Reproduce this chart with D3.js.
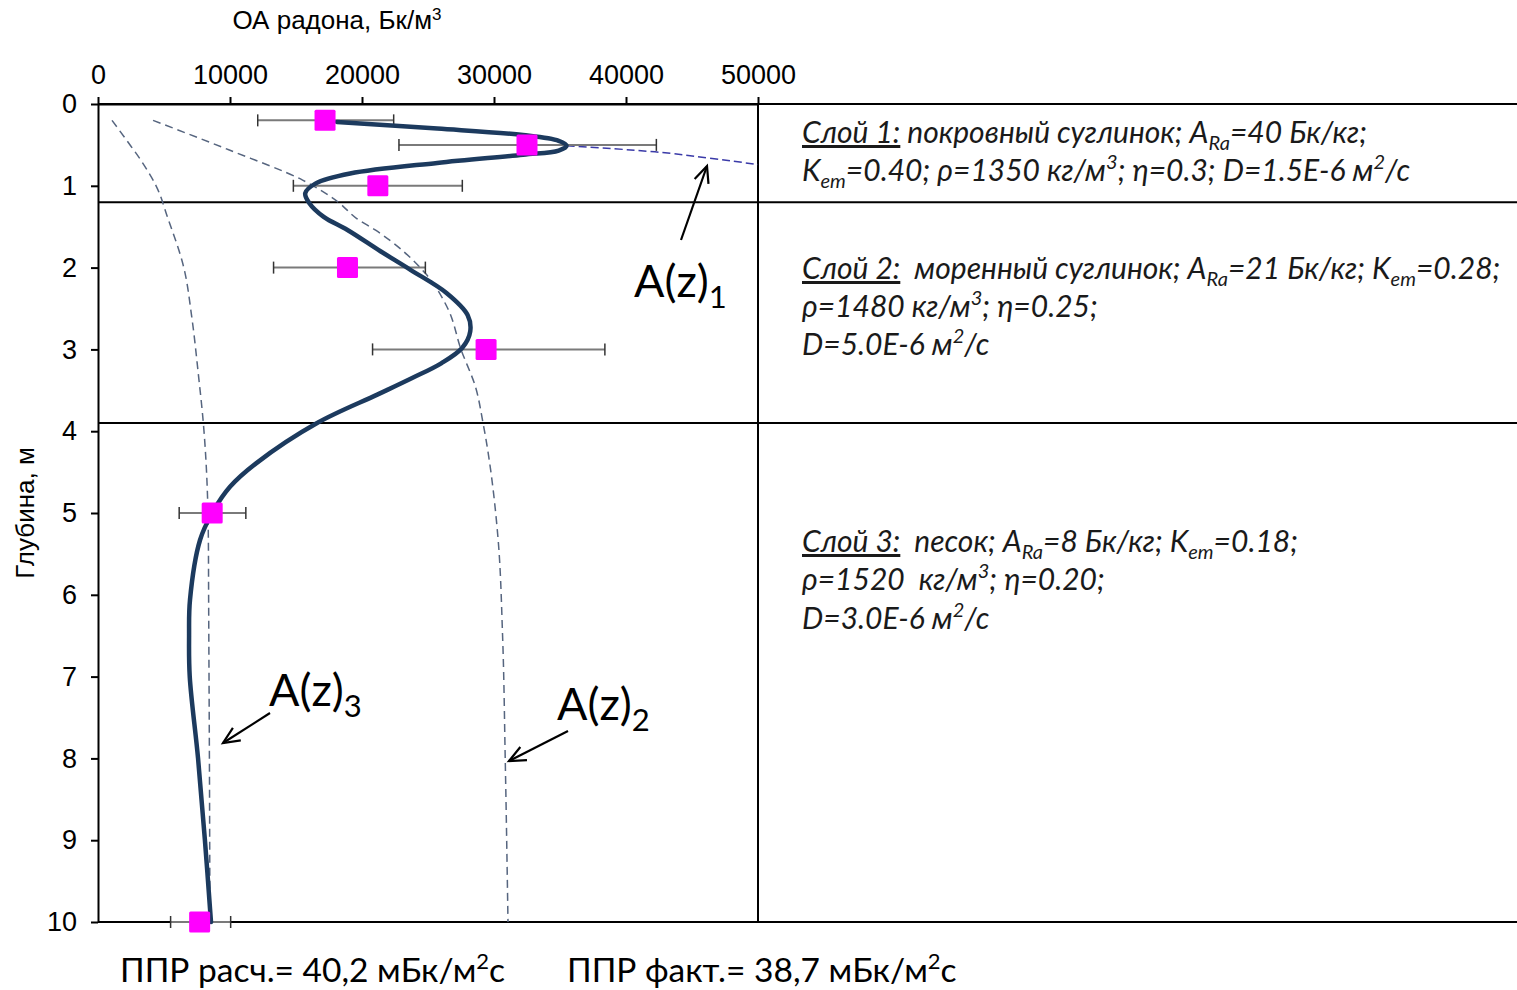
<!DOCTYPE html>
<html>
<head>
<meta charset="utf-8">
<script src="https://cdn.jsdelivr.net/npm/d3@7"></script>
<style>
  html, body { margin: 0; padding: 0; background: #fff; }
  svg { display: block; }
  .axis text { font-family: "Liberation Sans", Arial, sans-serif; font-size: 27px; fill: #000; }
  .axis path, .axis line { stroke: #000; stroke-width: 2; }
  .note { font-family: Lato, "Open Sans", sans-serif; font-style: italic; font-size: 30px; fill: #1a1a1a; white-space: pre; }
  .lbl { font-family: Lato, "Open Sans", sans-serif; font-size: 45px; fill: #000; }
  .foot { font-family: Lato, "Open Sans", sans-serif; font-size: 33.5px; fill: #000; }
</style>
</head>
<body>
<svg id="chart" width="1517" height="990"></svg>
<script>
// Axis ticks
const xTicks = [0, 10000, 20000, 30000, 40000, 50000];
const yTicks = [0, 1, 2, 3, 4, 5, 6, 7, 8, 9, 10];

// Layer boundaries, m
const layerBounds = [1.2, 3.9];

// Measured radon activity with error range
const measDepth = [0.2, 0.5, 1.0, 2.0, 3.0, 5.0, 10.0];
const measValue = [17200, 32500, 21200, 18900, 29400, 8650, 7700];
const measLow   = [12100, 22800, 14800, 13300, 20800, 6150, 5500];
const measHigh  = [22400, 42300, 27600, 24800, 38400, 11200, 10050];

// Calculated profile over the three-layer section
const profDepth = [0.22, 0.30, 0.38, 0.45, 0.51, 0.57, 0.62, 0.72, 0.85, 0.97, 1.09, 1.21, 1.38, 1.54, 1.80, 2.03, 2.31, 2.58, 2.78, 2.98, 3.17, 3.35, 3.55, 3.90, 4.39, 4.68, 5.00, 5.33, 6.06, 6.50, 7.00, 8.00, 9.00, 10.0];
const profValue = [18100, 25700, 32200, 34900, 35500, 34900, 32200, 25700, 19100, 16500, 15700, 16000, 17100, 18900, 21400, 23700, 26400, 28000, 28200, 27600, 26000, 23800, 21200, 16600, 12000, 10000, 8650, 7730, 6970, 6900, 6950, 7580, 8100, 8560];

// Single-layer solutions A(z)1, A(z)2, A(z)3
const a1Depth = [0.51, 0.585, 0.66, 0.74];
const a1Value = [35500, 42200, 46200, 50000];
const a2Depth = [0.2, 0.56, 0.93, 1.2, 1.4, 1.54, 2.07, 2.5, 3.0, 3.46, 3.9, 5.3, 6.5, 8.0, 10.0];
const a2Value = [4170, 9900, 15500, 18200, 19600, 21000, 24800, 26500, 27500, 28600, 29170, 30300, 30650, 30850, 31060];
const a3Depth = [0.2, 0.45, 0.7, 1.0, 1.4, 2.0, 2.6, 3.3, 3.9, 5.3, 6.0, 8.0, 10.0];
const a3Value = [1060, 2200, 3300, 4400, 5300, 6500, 7100, 7600, 7980, 8360, 8380, 8440, 8480];

const svg = d3.select("#chart");
const W = 1517;

const x = d3.scaleLinear().domain([0, 50000]).range([98, 758]);
const y = d3.scaleLinear().domain([0, 10]).range([104, 922]);

// Axes
svg.append("g").attr("class", "axis")
  .attr("transform", `translate(0,${y(0)})`)
  .call(d3.axisTop(x).tickValues(xTicks).tickFormat(d3.format("d")).tickSize(7).tickPadding(13).tickSizeOuter(0));
svg.append("g").attr("class", "axis")
  .attr("transform", `translate(${x(0)},0)`)
  .call(d3.axisLeft(y).tickValues(yTicks).tickFormat(d3.format("d")).tickSize(7).tickPadding(14).tickSizeOuter(0));

// Frame: horizontal lines run across the whole width, right edge of the plot
const frame = svg.append("g").attr("stroke", "#000").attr("stroke-width", 2);
[0, 10].concat(layerBounds).forEach(d => {
  frame.append("line").attr("x1", x(0)).attr("x2", W).attr("y1", y(d)).attr("y2", y(d));
});
frame.append("line").attr("x1", x(50000)).attr("x2", x(50000)).attr("y1", y(0)).attr("y2", y(10));

// Axis titles
const title = svg.append("text").attr("x", 337).attr("y", 29)
  .attr("text-anchor", "middle")
  .style("font-family", "'Liberation Sans', Arial, sans-serif").style("font-size", "26px");
title.append("tspan").text("ОА радона, Бк/м");
title.append("tspan").attr("dy", -9).style("font-size", "17px").text("3");

svg.append("text")
  .attr("transform", "translate(34,513) rotate(-90)")
  .attr("text-anchor", "middle")
  .style("font-family", "'Liberation Sans', Arial, sans-serif").style("font-size", "26px")
  .text("Глубина, м");

// Curves
const plot = svg.append("g");
const lineOf = (ds, vs, curve) => d3.line().curve(curve)(ds.map((d, i) => [x(vs[i]), y(d)]));

plot.append("path").attr("d", lineOf(a3Depth, a3Value, d3.curveMonotoneY))
  .attr("fill", "none").attr("stroke", "#56657f").attr("stroke-width", 1.5).attr("stroke-dasharray", "8,5");
plot.append("path").attr("d", lineOf(a2Depth, a2Value, d3.curveMonotoneY))
  .attr("fill", "none").attr("stroke", "#56657f").attr("stroke-width", 1.5).attr("stroke-dasharray", "8,5");
plot.append("path").attr("d", lineOf(a1Depth, a1Value, d3.curveMonotoneY))
  .attr("fill", "none").attr("stroke", "#3a3aa8").attr("stroke-width", 1.5).attr("stroke-dasharray", "8,4");

// Error bars
const eb = plot.append("g");
measDepth.forEach((d, i) => {
  eb.append("line").attr("x1", x(measLow[i])).attr("x2", x(measHigh[i])).attr("y1", y(d)).attr("y2", y(d))
    .attr("stroke", "#7a7a7a").attr("stroke-width", 2);
  [measLow[i], measHigh[i]].forEach(v => {
    eb.append("line").attr("x1", x(v)).attr("x2", x(v)).attr("y1", y(d) - 6).attr("y2", y(d) + 6)
      .attr("stroke", "#333").attr("stroke-width", 1.5);
  });
});

// Main profile
plot.append("path").attr("d", lineOf(profDepth, profValue, d3.curveCatmullRom.alpha(0.5)))
  .attr("fill", "none").attr("stroke", "#1c3a5e").attr("stroke-width", 4.5)
  .attr("stroke-linejoin", "round").attr("stroke-linecap", "round");

// Measured points
plot.selectAll("rect.pt").data(measDepth).join("rect").attr("class", "pt")
  .attr("x", (d, i) => x(measValue[i]) - 10.5).attr("y", d => y(d) - 10.5)
  .attr("width", 21).attr("height", 21).attr("rx", 1.5)
  .attr("fill", "#ff00ff");

// Arrows
function arrow(x1, y1, x2, y2) {
  const g = svg.append("g").attr("stroke", "#000").attr("stroke-width", 2.2).attr("fill", "none");
  g.append("line").attr("x1", x1).attr("y1", y1).attr("x2", x2).attr("y2", y2);
  const a = Math.atan2(y2 - y1, x2 - x1);
  const L = 18, s = 0.42;
  g.append("path").attr("d",
    `M${x2 - L * Math.cos(a - s)},${y2 - L * Math.sin(a - s)} L${x2},${y2} L${x2 - L * Math.cos(a + s)},${y2 - L * Math.sin(a + s)}`);
}
arrow(681, 240, 707, 166);
arrow(270, 713, 223, 743);
arrow(568, 731, 509, 761);

function curveLabel(px, py, sub) {
  const t = svg.append("text").attr("class", "lbl").attr("x", px).attr("y", py);
  t.append("tspan").text("A(z)");
  t.append("tspan").attr("dy", 11).style("font-size", "31px").text(sub);
}
curveLabel(634, 297, "1");
curveLabel(269, 706, "3");
curveLabel(557, 720, "2");

// Layer descriptions
function noteLine(px, py, parts) {
  const t = svg.append("text").attr("class", "note").attr("x", px).attr("y", py)
    .attr("xml:space", "preserve");
  parts.forEach(p => {
    const s = t.append("tspan").text(p.t);
    if (p.sub) s.attr("dy", 7).style("font-size", "20px");
    if (p.sup) s.attr("dy", -12).style("font-size", "20px");
    if (p.back) s.attr("dy", p.back);
    if (p.u) s.style("text-decoration", "underline");
  });
}
const R = (t) => ({ t });
noteLine(802, 143, [{ t: "Слой 1:", u: true }, R(" покровный суглинок; A"), { t: "Ra", sub: true }, { t: "=40 Бк/кг;", back: -7 }]);
noteLine(802, 181, [R("K"), { t: "em", sub: true }, { t: "=0.40; ρ=1350 кг/м", back: -7 }, { t: "3", sup: true }, { t: "; η=0.3; D=1.5E-6 м", back: 12 }, { t: "2", sup: true }, { t: "/с", back: 12 }]);

noteLine(802, 279, [{ t: "Слой 2:", u: true }, R("  моренный суглинок; A"), { t: "Ra", sub: true }, { t: "=21 Бк/кг; K", back: -7 }, { t: "em", sub: true }, { t: "=0.28;", back: -7 }]);
noteLine(802, 317, [R("ρ=1480 кг/м"), { t: "3", sup: true }, { t: "; η=0.25;", back: 12 }]);
noteLine(802, 355, [R("D=5.0E-6 м"), { t: "2", sup: true }, { t: "/с", back: 12 }]);

noteLine(802, 552, [{ t: "Слой 3:", u: true }, R("  песок; A"), { t: "Ra", sub: true }, { t: "=8 Бк/кг; K", back: -7 }, { t: "em", sub: true }, { t: "=0.18;", back: -7 }]);
noteLine(802, 590, [R("ρ=1520  кг/м"), { t: "3", sup: true }, { t: "; η=0.20;", back: 12 }]);
noteLine(802, 629, [R("D=3.0E-6 м"), { t: "2", sup: true }, { t: "/с", back: 12 }]);

// Flux values
function foot(px, py, a) {
  const t = svg.append("text").attr("class", "foot").attr("x", px).attr("y", py);
  t.append("tspan").text(a);
  t.append("tspan").attr("dy", -13).style("font-size", "22px").text("2");
  t.append("tspan").attr("dy", 13).text("с");
}
foot(120, 982, "ППР расч.= 40,2 мБк/м");
foot(567, 982, "ППР факт.= 38,7 мБк/м");
</script>
</body>
</html>
